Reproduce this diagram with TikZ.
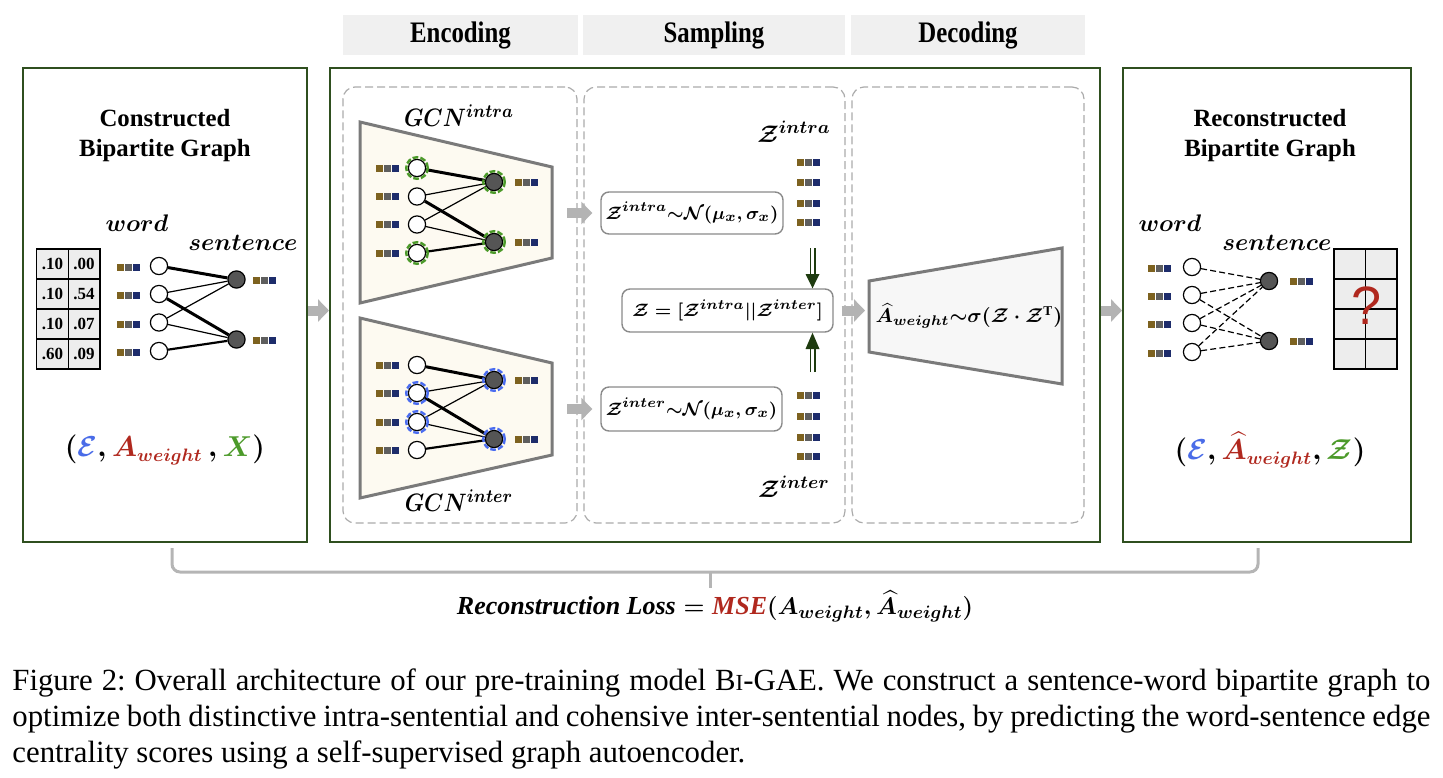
\documentclass[tikz,border=0pt]{standalone}
\usepackage{amsmath,amssymb,bm}
\usepackage{fontspec}
\setmainfont{Liberation Serif}
\newfontfamily\qfont{Liberation Sans}
\usepackage{graphicx}
\usetikzlibrary{arrows.meta,calc}
\definecolor{bgreen}{HTML}{2F4F1F}
\definecolor{hdr}{HTML}{F0F0F0}
\definecolor{cream}{HTML}{FDFAF1}
\definecolor{eb}{HTML}{7D6220}
\definecolor{eg}{HTML}{5E5E5E}
\definecolor{en}{HTML}{1D2C6B}
\definecolor{cE}{HTML}{4A6CE8}
\definecolor{cA}{HTML}{B0281E}
\definecolor{cX}{HTML}{4C9A2A}
\definecolor{dashg}{HTML}{ABABAB}
\definecolor{arrg}{HTML}{B3B3B3}
\definecolor{trapg}{HTML}{7A7A7A}
\definecolor{dg}{HTML}{1E3B0F}
\definecolor{snode}{HTML}{555555}
\definecolor{ringb}{HTML}{4A6CF0}
\definecolor{ringg}{HTML}{4C9A2A}
\definecolor{decfill}{HTML}{F7F7F7}
\definecolor{cellg}{HTML}{EDEDED}
\definecolor{mgray}{HTML}{8A8A8A}
\definecolor{braceg}{HTML}{B5B5B5}
\begin{document}
\begin{tikzpicture}[x=0.5pt,y=-0.5pt,
 bigbox/.style={draw=bgreen, line width=1pt, minimum height=237pt, inner sep=0pt},
 hdrbox/.style={fill=hdr, minimum height=20pt, inner sep=0pt, font=\bfseries\fontsize{12.4}{14}\selectfont},
 dbox/.style={draw=dashg, dash pattern=on 4pt off 2pt, line width=0.6pt, rounded corners=6pt, minimum height=218pt, inner sep=0pt},
 ttl/.style={align=center, font=\bfseries\fontsize{12.4}{15}\selectfont},
 lbl/.style={inner sep=0pt, font=\boldmath\fontsize{12}{14}\selectfont},
 cell/.style={draw, fill=cellg, line width=0.7pt, minimum width=15.8pt, minimum height=15pt, inner sep=0pt, font=\bfseries\fontsize{8.5}{10}\selectfont},
 wn/.style={circle, draw, fill=white, line width=0.6pt, minimum size=8.6pt, inner sep=0pt},
 sn/.style={wn, fill=snode},
 thk/.style={line width=1.5pt},
 thn/.style={line width=0.6pt},
 mdm/.style={line width=1.1pt},
 dsh/.style={line width=0.6pt, dash pattern=on 3pt off 1.6pt},
 ringG/.style={draw=ringg, line width=1.2pt, dash pattern=on 2.8pt off 1.1pt},
 ringB/.style={draw=ringb, line width=1.2pt, dash pattern=on 2.8pt off 1.1pt},
 trap/.style={draw=trapg, line width=1.5pt, fill=cream, line join=miter},
 mbox/.style={draw=mgray, line width=0.7pt, rounded corners=4pt, fill=white, inner sep=0pt, font=\boldmath\fontsize{9.5}{11}\selectfont},
 garrow/.style={draw=arrg, line width=5pt, -{Triangle[length=5.5pt,width=11pt]}},
 dgline/.style={draw=dg, line width=0.8pt},
 tpl/.style={inner sep=0pt, font=\boldmath\fontsize{13.5}{16}\selectfont},
 emb/.pic={
  \fill[eb] (-11.5,-3.5) rectangle (-4.5,3.5);
  \fill[eg] (-3.5,-3.5) rectangle (3.5,3.5);
  \fill[en] (4.5,-3.5) rectangle (11.5,3.5);
 }
]
\useasboundingbox (0,0) rectangle (1443,777);

% header
\node[hdrbox, minimum width=117.5pt] (hE) at (460.5,35) {\raisebox{-1.5pt}{\scalebox{1}[1.2]{Encoding}}};
\node[hdrbox, minimum width=131pt] (hS) at (714,35) {\raisebox{-1.5pt}{\scalebox{1}[1.2]{Sampling}}};
\node[hdrbox, minimum width=117pt] (hD) at (968,35) {\raisebox{-1.5pt}{\scalebox{1}[1.2]{Decoding}}};

% big boxes
\node[bigbox, minimum width=142pt] (L) at (165,305) {};
\node[bigbox, minimum width=385pt] (M) at (715,305) {};
\node[bigbox, minimum width=144pt] (R) at (1267,305) {};

% dashed stage boxes
\node[dbox, minimum width=117pt] (dE) at (460,305) {};
\node[dbox, minimum width=130.5pt] (dS) at (714.5,305) {};
\node[dbox, minimum width=116pt] (dD) at (968,305) {};

% ---------------- left panel
\node[ttl] (Lt) at (165,136) {Constructed\\Bipartite Graph};
\node[lbl] (Lw) at (137,223) {$word$};
\node[lbl] (Ls) at (243,243) {$sentence$};
\foreach \r/\a/\b [count=\i] in {264/.10/.00, 294/.10/.54, 324/.10/.07, 354/.60/.09}{
  \node[cell] (c\i a) at (52.5,\r) {\a};
  \node[cell] (c\i b) at (84,\r) {\b};
}
\foreach \y [count=\i] in {266,294,322.5,351}{
  \node[wn] (lw\i) at (159,\y) {};
  \pic at (128.5,\y+1.5) {emb};
}
\node[sn] (ls1) at (236.5,279.5) {};
\node[sn] (ls2) at (236.5,339.5) {};
\pic at (264,280.5) {emb};
\pic at (264,340.5) {emb};
\draw[thk] (lw1) -- (ls1);
\draw[thn] (lw2) -- (ls1);
\draw[thk] (lw2) -- (ls2);
\draw[thn] (lw3) -- (ls1);
\draw[thn] (lw3) -- (ls2);
\draw[mdm] (lw4) -- (ls2);
\node[tpl] (Ltp) at (165,450) {$(\textcolor{cE}{\mathcal{E}},\textcolor{cA}{A_{weight}}\,,\textcolor{cX}{X})$};

% ---------------- encoding
\node[lbl, font=\boldmath\fontsize{11}{13}\selectfont] (g1) at (459,116) {\scalebox{1}[1.15]{$GCN^{intra}$}};
\draw[trap] (360,122) -- (552,167) -- (552,258) -- (360,303) -- cycle;
\foreach \y [count=\i] in {168,196.5,224.5,253}{
  \node[wn] (aw\i) at (417,\y) {};
  \pic at (387,\y) {emb};
}
\node[sn] (as1) at (494,182) {};
\node[sn] (as2) at (494,242) {};
\pic at (526,182) {emb};
\pic at (526,242) {emb};
\draw[thk] (aw1) -- (as1);
\draw[thn] (aw2) -- (as1);
\draw[thk] (aw2) -- (as2);
\draw[thn] (aw3) -- (as1);
\draw[thn] (aw3) -- (as2);
\draw[mdm] (aw4) -- (as2);
\foreach \n in {aw1,aw4,as1,as2}{ \draw[ringG] (\n) circle (5.4pt); }

\draw[trap] (360,318) -- (552,363) -- (552,455) -- (360,498) -- cycle;
\foreach \y [count=\i] in {365,393,422,450}{
  \node[wn] (bw\i) at (417,\y) {};
  \pic at (387,\y) {emb};
}
\node[sn] (bs1) at (494,380) {};
\node[sn] (bs2) at (494,439) {};
\pic at (526,380) {emb};
\pic at (526,439) {emb};
\draw[thk] (bw1) -- (bs1);
\draw[thn] (bw2) -- (bs1);
\draw[thk] (bw2) -- (bs2);
\draw[thn] (bw3) -- (bs1);
\draw[thn] (bw3) -- (bs2);
\draw[mdm] (bw4) -- (bs2);
\foreach \n in {bw2,bw3,bs1,bs2}{ \draw[ringB] (\n) circle (5.4pt); }
\node[lbl, font=\boldmath\fontsize{11}{13}\selectfont] (g2) at (459,501) {\scalebox{1}[1.15]{$GCN^{inter}$}};

% ---------------- sampling
\node[lbl, font=\boldmath\fontsize{13}{15}\selectfont] (zl1) at (794,132) {$\mathcal{Z}^{intra}$};
\foreach \y in {162,182,203,222}{ \pic at (808,\y) {emb}; }
\node[mbox, minimum width=91pt, minimum height=21pt] (ZA) at (692,213) {$\mathcal{Z}^{intra}{\sim}\mathcal{N}(\mu_x,\sigma_x)$};
\node[mbox, minimum width=105.5pt, minimum height=21.5pt] (Zc) at (727.5,310.5) {$\mathcal{Z}=[\mathcal{Z}^{intra}||\mathcal{Z}^{inter}]$};
\node[mbox, minimum width=90.5pt, minimum height=22pt] (ZE) at (691.5,409) {$\mathcal{Z}^{inter}{\sim}\mathcal{N}(\mu_x,\sigma_x)$};
\foreach \y in {395,416,437,456}{ \pic at (808,\y) {emb}; }
\node[lbl, font=\boldmath\fontsize{13}{15}\selectfont] (zl2) at (794,487) {$\mathcal{Z}^{inter}$};

\coordinate (dt) at (812.5,248);
\coordinate (db) at (812.5,372);
\draw[dgline] ([xshift=-1.1pt]dt) -- ([xshift=-1.1pt]dt |- 0,276);
\draw[dgline] ([xshift=1.1pt]dt) -- ([xshift=1.1pt]dt |- 0,276);
\fill[dg] (805.5,274) -- (819.5,274) -- (dt |- Zc.north) -- cycle;
\draw[dgline] ([xshift=-1.1pt]db) -- ([xshift=-1.1pt]db |- 0,347);
\draw[dgline] ([xshift=1.1pt]db) -- ([xshift=1.1pt]db |- 0,347);
\fill[dg] (805.5,349) -- (819.5,349) -- (db |- Zc.south) -- cycle;

% ---------------- decoding
\draw[trap, fill=decfill] (869,281) -- (1062,248) -- (1062,384) -- (869,352) -- cycle;
\coordinate (DL) at (869,310.5);
\node[inner sep=0pt, font=\boldmath\fontsize{9.6}{11}\selectfont] (dec) at (969,316) {$\widehat{A}_{weight}{\sim}\sigma(\mathcal{Z}\cdot\mathcal{Z}^{\mathrm{T}})$};

% ---------------- right panel
\node[ttl] (Rt) at (1270,136) {Reconstructed\\Bipartite Graph};
\node[lbl] (Rw) at (1170,223) {$word$};
\node[lbl] (Rs) at (1277,243) {$sentence$};
\foreach \y [count=\i] in {267,295,323,352}{
  \node[wn] (rw\i) at (1192,\y) {};
  \pic at (1159,\y+1) {emb};
}
\node[sn] (rs1) at (1269,281) {};
\node[sn] (rs2) at (1269,341) {};
\pic at (1301,281) {emb};
\pic at (1301,341) {emb};
\draw[dsh] (rw1) -- (rs1);
\draw[dsh] (rw2) -- (rs1);
\draw[dsh] (rw2) -- (rs2);
\draw[dsh] (rw3) -- (rs1);
\draw[dsh] (rw3) -- (rs2);
\draw[dsh] (rw4) -- (rs1);
\draw[dsh] (rw4) -- (rs2);
\foreach \r [count=\i] in {264,294,324,354}{
  \node[cell, minimum width=15.75pt] (d\i a) at (1349.75,\r) {};
  \node[cell, minimum width=15.75pt] (d\i b) at (1381.25,\r) {};
}
\node[inner sep=0pt, text=cA, font=\qfont\fontsize{27}{27}\selectfont] (q) at (1366,306) {?};
\node[tpl] (Rtp) at (1270,450) {$(\textcolor{cE}{\mathcal{E}},\textcolor{cA}{\widehat{A}_{weight}},\textcolor{cX}{\mathcal{Z}})$};

% ---------------- gray arrows
\draw[garrow] (L.east |- Zc) -- (M.west |- Zc);
\draw[garrow] ([xshift=-16.5pt]ZA.west) -- ([xshift=-4pt]ZA.west);
\draw[garrow] ([xshift=-16.5pt]ZE.west) -- ([xshift=-4pt]ZE.west);
\draw[garrow] ([xshift=4pt]Zc.east) -- ([xshift=-2pt]DL);
\draw[garrow] (M.east |- Zc) -- (R.west |- Zc);

% ---------------- loss brace
\draw[draw=braceg, line width=1.5pt, rounded corners=4pt] (172,548) |- (710,572) -| (1258,548);
\draw[draw=braceg, line width=1.5pt] (710,572) -- (710,588);
\node[inner sep=0pt, font=\boldmath\fontsize{13}{15}\selectfont] (loss) at (715,606) {$\mathit{Reconstruction\ Loss}=\textcolor{cA}{\mathit{MSE}}(A_{weight},\widehat{A}_{weight})$};

% ---------------- caption
\node[anchor=north west, inner sep=0pt, text width=709pt, align=justify, font=\frenchspacing\fontsize{15.4}{18}\selectfont] (cap) at (12,668) {Figure 2: Overall architecture of our pre-training model B{\fontsize{11.5}{10}\selectfont I}-GAE. We construct a sentence-word bipartite graph to\linebreak optimize both distinctive intra-sentential and cohensive inter-sentential nodes, by predicting the word-sentence edge\linebreak centrality scores using a self-supervised graph autoencoder.};
\end{tikzpicture}
\end{document}
